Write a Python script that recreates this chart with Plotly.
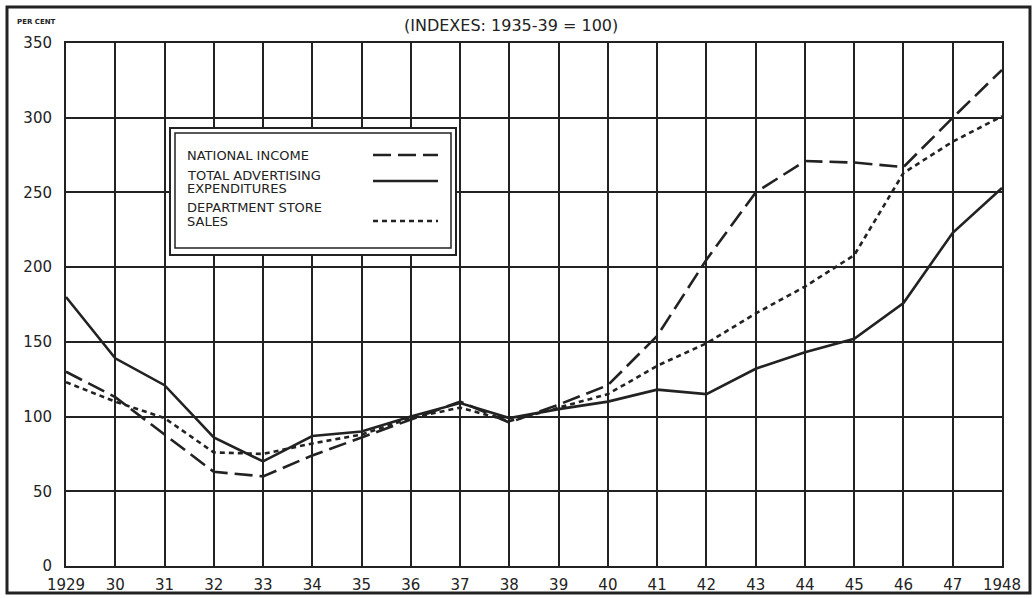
import plotly.graph_objects as go

years = list(range(1929, 1949))
year_labels = ["1929"] + [str(y)[2:] for y in range(1930, 1948)] + ["1948"]

national_income = [130, 113, 88, 63, 60, 74, 86, 98, 110, 96, 108, 121, 154, 205, 250, 271, 270, 267, 300, 332]
advertising = [180, 139, 121, 86, 70, 87, 90, 100, 109, 99, 105, 110, 118, 115, 132, 143, 152, 176, 223, 253]
dept_store = [123, 110, 99, 76, 75, 82, 88, 99, 106, 97, 106, 115, 134, 149, 169, 187, 208, 263, 284, 301]

series_names = ["NATIONAL INCOME", "TOTAL ADVERTISING EXPENDITURES", "DEPARTMENT STORE SALES"]
y_ticks = [0, 50, 100, 150, 200, 250, 300, 350]

INK = "#222222"
FONT = "DejaVu Sans"

W, H = 1036, 598
L, R, T, B = 66, 34, 43, 32
pw, ph = W - L - R, H - T - B


def px(x):
    return (x - L) / pw


def py(y):
    return (H - B - y) / ph


fig = go.Figure()
styles = [
    dict(dash="18px,7px", width=2.6),
    dict(dash="solid", width=2.6),
    dict(dash="5px,4px", width=2.6),
]
for name, vals, st in zip(series_names, [national_income, advertising, dept_store], styles):
    fig.add_trace(go.Scatter(x=years, y=vals, mode="lines", name=name,
                             line=dict(color=INK, width=st["width"], dash=st["dash"]),
                             showlegend=False))

fig.update_layout(
    width=W, height=H,
    margin=dict(l=L, r=R, t=T, b=B, autoexpand=False),
    paper_bgcolor="white", plot_bgcolor="white",
    font=dict(family=FONT, color=INK),
)
fig.update_xaxes(range=[1929, 1948], tickvals=years, ticktext=year_labels,
                 showgrid=True, gridcolor=INK, gridwidth=1.6,
                 showline=True, linecolor=INK, linewidth=2, mirror=True,
                 ticks="", ticklabelstandoff=4, zeroline=False, automargin=False,
                 tickfont=dict(size=15, family=FONT, color=INK))
fig.update_yaxes(range=[0, 350], tickvals=y_ticks,
                 showgrid=True, gridcolor=INK, gridwidth=1.6,
                 showline=True, linecolor=INK, linewidth=2, mirror=True,
                 ticks="", ticklabelstandoff=9, zeroline=False, automargin=False,
                 tickfont=dict(size=15, family=FONT, color=INK))

shapes = []
# outer frame of whole figure
shapes.append(dict(type="rect", xref="paper", yref="paper",
                   x0=px(7), x1=px(1030), y0=py(593), y1=py(7),
                   line=dict(color=INK, width=3), fillcolor="rgba(0,0,0,0)", layer="above"))
# legend double box
shapes.append(dict(type="rect", xref="paper", yref="paper",
                   x0=px(170), x1=px(456), y0=py(255), y1=py(128),
                   line=dict(color=INK, width=2), fillcolor="white", layer="above"))
shapes.append(dict(type="rect", xref="paper", yref="paper",
                   x0=px(175), x1=px(451), y0=py(248), y1=py(133),
                   line=dict(color=INK, width=1.5), fillcolor="white", layer="above"))
# legend samples
for st, yy in zip(styles, [155, 181, 221]):
    shapes.append(dict(type="line", xref="paper", yref="paper",
                       x0=px(373), x1=px(438), y0=py(yy), y1=py(yy),
                       line=dict(color=INK, width=st["width"], dash=st["dash"]), layer="above"))
fig.update_layout(shapes=shapes)

annotations = []
legend_lines = [("NATIONAL INCOME", 155), ("TOTAL ADVERTISING", 175), ("EXPENDITURES", 189),
                ("DEPARTMENT STORE", 207), ("SALES", 221)]
for txt, yy in legend_lines:
    annotations.append(dict(text=txt, xref="paper", yref="paper", x=px(185), y=py(yy),
                            xanchor="left", yanchor="middle", showarrow=False,
                            font=dict(size=13, family=FONT, color=INK)))
annotations.append(dict(text="(INDEXES: 1935-39 = 100)", xref="paper", yref="paper",
                        x=px(511), y=py(25), xanchor="center", yanchor="middle", showarrow=False,
                        font=dict(size=16, family=FONT, color=INK)))
annotations.append(dict(text="<b>PER CENT</b>", xref="paper", yref="paper",
                        x=px(15), y=py(22), xanchor="left", yanchor="middle", showarrow=False,
                        font=dict(size=7, family=FONT, color=INK)))
fig.update_layout(annotations=annotations)

post = "document.body.style.margin='0px';document.body.style.overflow='hidden';"
fig.write_html("out.html", config={"displayModeBar": False}, post_script=post)
